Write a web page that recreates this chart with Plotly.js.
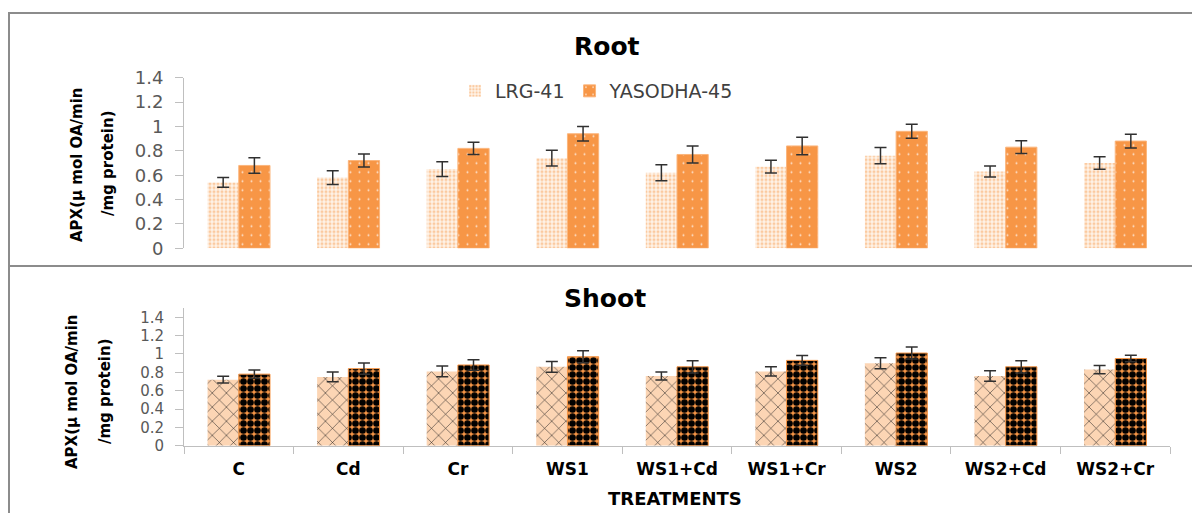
<!DOCTYPE html>
<html>
<head>
<meta charset="utf-8">
<script src="https://cdn.plot.ly/plotly-3.0.1.min.js"></script>
<style>html,body{margin:0;padding:0;background:#fff;}#chart{width:1192px;height:513px;}</style>
</head>
<body>
<div id="chart"></div>
<script>
const treatments = ["C", "Cd", "Cr", "WS1", "WS1+Cd", "WS1+Cr", "WS2", "WS2+Cd", "WS2+Cr"];
const seriesNames = ["LRG-41", "YASODHA-45"];

const rootLRG = [0.54, 0.58, 0.65, 0.74, 0.62, 0.67, 0.76, 0.63, 0.70];
const rootLRGErr = [0.04, 0.057, 0.06, 0.065, 0.065, 0.053, 0.067, 0.045, 0.052];
const rootYAS = [0.68, 0.72, 0.82, 0.94, 0.77, 0.84, 0.96, 0.83, 0.88];
const rootYASErr = [0.064, 0.053, 0.05, 0.06, 0.07, 0.072, 0.057, 0.053, 0.056];

const shootLRG = [0.72, 0.75, 0.81, 0.86, 0.76, 0.81, 0.90, 0.76, 0.83];
const shootLRGErr = [0.036, 0.053, 0.058, 0.058, 0.044, 0.05, 0.06, 0.057, 0.045];
const shootYAS = [0.78, 0.84, 0.88, 0.97, 0.86, 0.93, 1.01, 0.86, 0.95];
const shootYASErr = [0.044, 0.062, 0.058, 0.065, 0.067, 0.052, 0.065, 0.067, 0.035];

const yTicks = [0, 0.2, 0.4, 0.6, 0.8, 1, 1.2, 1.4];
const yTickText = ["0", "0.2", "0.4", "0.6", "0.8", "1", "1.2", "1.4"];

const W = 1192, H = 513;
const px = v => v / W;
const py = v => 1 - v / H;

const errStyle = arr => ({type: 'data', array: arr, visible: true, color: '#303030', thickness: 1.5, width: 6});

const traces = [
  {type: 'bar', name: seriesNames[0], x: treatments, y: rootLRG, xaxis: 'x', yaxis: 'y',
   error_y: errStyle(rootLRGErr),
   marker: {color: '#fcd5b4', line: {width: 0},
            pattern: {shape: '.', fgcolor: '#fbcaa0', bgcolor: '#fff3e8', size: 4, solidity: 0.45}}},
  {type: 'bar', name: seriesNames[1], x: treatments, y: rootYAS, xaxis: 'x', yaxis: 'y',
   error_y: errStyle(rootYASErr),
   marker: {color: '#f79646', line: {width: 1, color: '#fbb57c'},
            pattern: {shape: '.', fgcolor: '#fde2cc', bgcolor: '#f79646', size: 9, solidity: 0.04}}},
  {type: 'bar', name: seriesNames[0], x: treatments, y: shootLRG, xaxis: 'x2', yaxis: 'y2', showlegend: false,
   error_y: errStyle(shootLRGErr),
   marker: {color: '#fcd5b4', line: {width: 0},
            pattern: {shape: 'x', fgcolor: '#1a1a1a', bgcolor: '#fcd5b4', size: 10, solidity: 0.1}}},
  {type: 'bar', name: seriesNames[1], x: treatments, y: shootYAS, xaxis: 'x2', yaxis: 'y2', showlegend: false,
   error_y: errStyle(shootYASErr),
   marker: {color: '#f79646', line: {width: 1, color: '#f79646'},
            pattern: {shape: '.', fgcolor: '#000000', bgcolor: '#f79646', size: 7, solidity: 0.7}}}
];

const yAxisBase = {
  tickmode: 'array', tickvals: yTicks, ticktext: yTickText,
  showgrid: false, zeroline: false, showline: true, linecolor: '#bfbfbf', linewidth: 1,
  ticks: 'outside', ticklen: 8, tickcolor: '#bfbfbf', ticklabelstandoff: 8,
  tickfont: {family: 'DejaVu Sans', size: 18, color: '#595959'}
};

const layout = {
  width: W, height: H,
  margin: {l: 0, r: 0, t: 0, b: 0},
  paper_bgcolor: '#ffffff', plot_bgcolor: 'rgba(0,0,0,0)',
  barmode: 'group', bargap: 0.43, bargroupgap: 0,
  showlegend: true,
  legend: {orientation: 'h', x: px(455), y: py(91), xanchor: 'left', yanchor: 'middle',
           font: {family: 'DejaVu Sans', size: 19, color: '#404040'}, itemwidth: 30,
           bgcolor: 'rgba(0,0,0,0)', tracegroupgap: 0},
  xaxis: {domain: [px(184), px(1170)], anchor: 'y', showline: false, showticklabels: false,
          ticks: '', showgrid: false, zeroline: false},
  yaxis: Object.assign({}, yAxisBase, {domain: [py(248.3), py(77.7)], range: [0, 1.4], anchor: 'x'}),
  xaxis2: {domain: [px(184), px(1170)], anchor: 'y2', showline: true, linecolor: '#bfbfbf', linewidth: 1,
           ticks: 'outside', tickson: 'boundaries', ticklen: 7, tickcolor: '#bfbfbf',
           showgrid: false, zeroline: false, ticklabelstandoff: 8,
           tickfont: {family: 'DejaVu Sans', size: 17, color: '#000000', weight: 'bold'}},
  yaxis2: Object.assign({}, yAxisBase, {domain: [py(445.7), py(308.1)], range: [0, 1.5], anchor: 'x2',
           tickfont: {family: 'DejaVu Sans', size: 15, color: '#595959'}}),
  shapes: [
    {type: 'rect', xref: 'paper', yref: 'paper', x0: px(9), x1: px(1200), y0: py(266), y1: py(13),
     line: {color: '#8c8c8c', width: 2}, fillcolor: 'rgba(0,0,0,0)'},
    {type: 'line', xref: 'paper', yref: 'paper', x0: px(9), x1: px(9), y0: py(266), y1: py(520),
     line: {color: '#8c8c8c', width: 2}}
  ],
  annotations: [
    {text: '<b>Root</b>', xref: 'paper', yref: 'paper', x: px(607), y: py(46), showarrow: false,
     font: {family: 'DejaVu Sans', size: 25, color: '#000'}, xanchor: 'center', yanchor: 'middle'},
    {text: '<b>Shoot</b>', xref: 'paper', yref: 'paper', x: px(605), y: py(298), showarrow: false,
     font: {family: 'DejaVu Sans', size: 25, color: '#000'}, xanchor: 'center', yanchor: 'middle'},
    {text: '<b>APX(µ mol OA/min</b>', xref: 'paper', yref: 'paper', x: px(77), y: py(165), textangle: -90,
     xanchor: 'center', yanchor: 'middle',
     showarrow: false, font: {family: 'DejaVu Sans', size: 15, color: '#000'}},
    {text: '<b>/mg protein)</b>', xref: 'paper', yref: 'paper', x: px(108), y: py(163), textangle: -90,
     xanchor: 'center', yanchor: 'middle',
     showarrow: false, font: {family: 'DejaVu Sans', size: 15, color: '#000'}},
    {text: '<b>APX(µ mol OA/min</b>', xref: 'paper', yref: 'paper', x: px(72), y: py(392), textangle: -90,
     xanchor: 'center', yanchor: 'middle',
     showarrow: false, font: {family: 'DejaVu Sans', size: 15, color: '#000'}},
    {text: '<b>/mg protein)</b>', xref: 'paper', yref: 'paper', x: px(105), y: py(391), textangle: -90,
     xanchor: 'center', yanchor: 'middle',
     showarrow: false, font: {family: 'DejaVu Sans', size: 15, color: '#000'}},
    {text: '<b>TREATMENTS</b>', xref: 'paper', yref: 'paper', x: px(675), y: py(498), showarrow: false,
     font: {family: 'DejaVu Sans', size: 18, color: '#000'}, xanchor: 'center', yanchor: 'middle'}
  ]
};

Plotly.newPlot('chart', traces, layout, {staticPlot: true, displayModeBar: false});
</script>
</body>
</html>
